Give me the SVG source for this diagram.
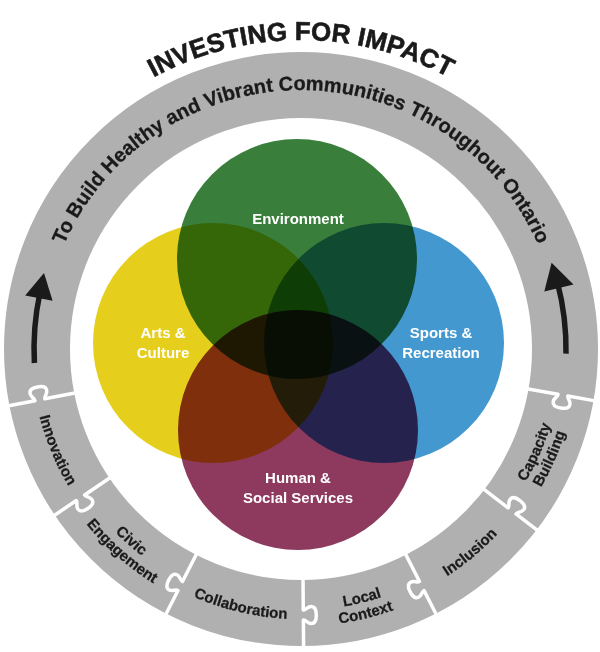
<svg xmlns="http://www.w3.org/2000/svg" width="600" height="652" viewBox="0 0 600 652">
  <style>
    .ring { fill: none; stroke: #b0b0b0; stroke-width: 66; }
    .sep { fill: none; stroke: #ffffff; stroke-width: 3.5; stroke-linejoin: round; }
    .venn { mix-blend-mode: multiply; }
    .vlabel { font-family: "Liberation Sans", Arial, sans-serif; font-weight: bold; font-size: 15px; fill: #ffffff; text-anchor: middle; }
    .title { font-family: "Liberation Sans", Arial, sans-serif; font-weight: bold; font-size: 26px; fill: #1a1a1a; stroke: #1a1a1a; stroke-width: 0.6; }
    .ringtext { font-family: "Liberation Sans", Arial, sans-serif; font-weight: bold; font-size: 20px; fill: #1a1a1a; stroke: #1a1a1a; stroke-width: 0.3; }
    .plabel { font-family: "Liberation Sans", Arial, sans-serif; font-weight: bold; font-size: 15px; fill: #1a1a1a; stroke: #1a1a1a; stroke-width: 0.25; }
    .arrow { fill: none; stroke: #1a1a1a; stroke-width: 5.5; }
    .head { fill: #1a1a1a; }
  </style>
  <defs>
    <path id="titlePath" d="M -8,349 A 309 309 0 0 1 610,349"/>
    <path id="topPath" d="M 42,349 A 259 259 0 0 1 560,349"/>
    <path id="bot270" d="M 47.3,256.7 A 270 270 0 1 0 554.7,256.7"/>
    <path id="bot261" d="M 55.7,259.7 A 261 261 0 1 0 546.3,259.7"/>
    <path id="bot277" d="M 40.7,254.3 A 277 277 0 1 0 561.3,254.3"/>
    <path id="knob" d="M -37,0 H -5 C -5,3 -8.5,4 -8.5,8 C -8.5,11.5 -4.5,13 0,13 C 4.5,13 8.5,11.5 8.5,8 C 8.5,4 5,3 5,0 H 37"/>
  </defs>

  <rect x="0" y="0" width="600" height="652" fill="#ffffff"/>

  <g id="ring">
    <circle class="ring" cx="301" cy="349" r="264"/>
  </g>

  <g id="connectors">
    <g id="separators">
      <use href="#knob" class="sep" transform="translate(301,349) rotate(10) translate(266,0) scale(1,1)"/>
      <use href="#knob" class="sep" transform="translate(301,349) rotate(37.5) translate(266,0) scale(1,-1)"/>
      <use href="#knob" class="sep" transform="translate(301,349) rotate(63) translate(266,0) scale(1,1)"/>
      <use href="#knob" class="sep" transform="translate(301,349) rotate(89.5) translate(266,0) scale(1,-1)"/>
      <use href="#knob" class="sep" transform="translate(301,349) rotate(117) translate(266,0) scale(1,1)"/>
      <use href="#knob" class="sep" transform="translate(301,349) rotate(146) translate(266,0) scale(1,-1)"/>
      <use href="#knob" class="sep" transform="translate(301,349) rotate(169) translate(266,0) scale(1,1)"/>
    </g>
    <g id="arrow-left">
      <path class="arrow" d="M 34.4,363 A 267 267 0 0 1 39.8,293.5"/>
      <polygon class="head" points="44,272.9 52.6,300.7 25.2,295.4"/>
    </g>
    <g id="arrow-right">
      <path class="arrow" d="M 566,353.6 A 265 265 0 0 0 557.5,282.6"/>
      <polygon class="head" points="551.6,262.7 544.3,291.5 573.5,284.6"/>
    </g>
  </g>

  <g id="title">
    <text class="title"><textPath href="#titlePath" startOffset="50%" text-anchor="middle">INVESTING FOR IMPACT</textPath></text>
  </g>

  <g id="mission">
    <text class="ringtext"><textPath href="#topPath" startOffset="50%" text-anchor="middle">To Build Healthy and Vibrant Communities Throughout Ontario</textPath></text>
  </g>

  <g id="venn" style="isolation:isolate">
    <g id="environment">
      <circle class="venn" cx="297" cy="259" r="120" fill="#3a7e3c"/>
    </g>
    <g id="arts-culture">
      <circle class="venn" cx="213" cy="343" r="120" fill="#e6cf1c"/>
    </g>
    <g id="sports-recreation">
      <circle class="venn" cx="384" cy="343" r="120" fill="#4398d0"/>
    </g>
    <g id="human-social">
      <circle class="venn" cx="298" cy="430" r="120" fill="#8d3a5e"/>
    </g>
  </g>
  <g id="venn-labels">
    <text class="vlabel" x="298" y="224">Environment</text>
    <text class="vlabel" x="163" y="338">Arts &amp;</text>
    <text class="vlabel" x="163" y="358">Culture</text>
    <text class="vlabel" x="441" y="338">Sports &amp;</text>
    <text class="vlabel" x="441" y="358">Recreation</text>
    <text class="vlabel" x="298" y="483">Human &amp;</text>
    <text class="vlabel" x="298" y="503">Social Services</text>
  </g>

  <g id="innovation">
    <text class="plabel"><textPath href="#bot270" startOffset="19.32%" text-anchor="middle">Innovation</textPath></text>
  </g>
  <g id="civic-engagement">
    <text class="plabel"><textPath href="#bot261" startOffset="31.14%" text-anchor="middle">Civic</textPath></text>
    <text class="plabel"><textPath href="#bot277" startOffset="31.14%" text-anchor="middle">Engagement</textPath></text>
  </g>
  <g id="collaboration">
    <text class="plabel"><textPath href="#bot270" startOffset="43.98%" text-anchor="middle">Collaboration</textPath></text>
  </g>
  <g id="local-context">
    <text class="plabel"><textPath href="#bot261" startOffset="56.25%" text-anchor="middle">Local</textPath></text>
    <text class="plabel"><textPath href="#bot277" startOffset="56.25%" text-anchor="middle">Context</textPath></text>
  </g>
  <g id="inclusion">
    <text class="plabel"><textPath href="#bot270" startOffset="68.07%" text-anchor="middle">Inclusion</textPath></text>
  </g>
  <g id="capacity-building">
    <text class="plabel"><textPath href="#bot261" startOffset="80.11%" text-anchor="middle">Capacity</textPath></text>
    <text class="plabel"><textPath href="#bot277" startOffset="80.11%" text-anchor="middle">Building</textPath></text>
  </g>
</svg>
